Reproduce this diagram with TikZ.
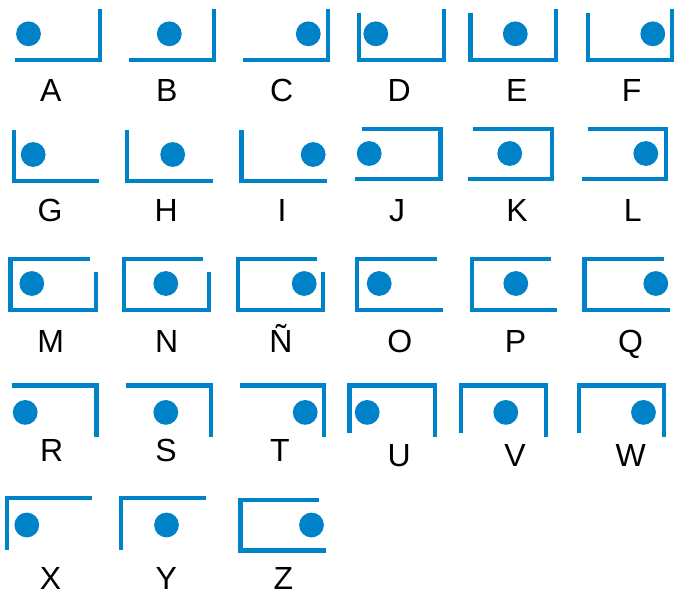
\documentclass[tikz,border=0pt]{standalone}
\usepackage{fontspec}
\setmainfont{Liberation Sans}
\definecolor{cblue}{RGB}{0,130,200}
\tikzset{
  wall/.style={draw=cblue, line width=4.3pt, line join=miter},
  dot/.style={fill=cblue},
  lab/.style={anchor=base, inner sep=0pt, font=\fontsize{32}{32}\selectfont, text=black}
}
\begin{document}
\begin{tikzpicture}[x=1pt,y=-1pt]
\useasboundingbox (0,0) rectangle (675,592);
% ---------- Row 1 ----------
\draw[wall] (15,60) -- (100,60) -- (100,9);
\draw[wall] (129,60) -- (214,60) -- (214,9);
\draw[wall] (243,60) -- (328,60) -- (328,9);
\draw[wall] (359,13) -- (359,60) -- (444,60) -- (444,9);
\draw[wall] (470.5,13) -- (470.5,60) -- (556,60) -- (556,9);
\draw[wall] (588.3,13) -- (588.3,60) -- (671.7,60) -- (671.7,9);
\foreach \x in {28.5,169.3,308.3,375.8,515.3,652.8} \fill[dot] (\x,33.8) circle[radius=12.4];
\node[lab] (lA) at (50.8,101.7) {A};
\node[lab] (lB) at (166.7,101.7) {B};
\node[lab] (lC) at (281.7,101.7) {C};
\node[lab] (lD) at (399.2,101.7) {D};
\node[lab] (lE) at (516.7,101.7) {E};
\node[lab] (lF) at (631.7,101.7) {F};
% ---------- Row 2 ----------
\draw[wall] (13.7,130) -- (13.7,180.7) -- (99,180.7);
\draw[wall] (127.2,130) -- (127.2,180.7) -- (212.7,180.7);
\draw[wall] (241.5,130) -- (241.5,180.7) -- (326.7,180.7);
\draw[wall] (361.7,129) -- (440.5,129) -- (440.5,179.3) -- (355,179.3);
\draw[wall] (473.3,129) -- (552.2,129) -- (552.2,179.3) -- (467.7,179.3);
\draw[wall] (588.3,129) -- (666.2,129) -- (666.2,179.3) -- (581.7,179.3);
\foreach \x in {33.2,172.7,313.2} \fill[dot] (\x,154.5) circle[radius=12.4];
\foreach \x in {369.2,509.7,645.8} \fill[dot] (\x,153.5) circle[radius=12.4];
\node[lab] (lG) at (50,221.7) {G};
\node[lab] (lH) at (166.2,221.7) {H};
\node[lab] (lI) at (282,221.7) {I};
\node[lab] (lJ) at (397,221.7) {J};
\node[lab] (lK) at (517,221.7) {K};
\node[lab] (lL) at (632.8,221.7) {L};
% ---------- Row 3 ----------
\draw[wall] (90,258.7) -- (10.5,258.7) -- (10.5,310.2) -- (96.2,310.2) -- (96.2,271.7);
\draw[wall] (203.3,258.7) -- (123.8,258.7) -- (123.8,310.2) -- (209,310.2) -- (209,271.7);
\draw[wall] (316.7,258.7) -- (238,258.7) -- (238,310.2) -- (322.8,310.2) -- (322.8,271.7);
\draw[wall] (436.7,258.7) -- (357.2,258.7) -- (357.2,310.3) -- (442.7,310.3);
\draw[wall] (550.7,258.7) -- (471.7,258.7) -- (471.7,310.3) -- (557.3,310.3);
\draw[wall] (664,258.7) -- (584.5,258.7) -- (584.5,310.3) -- (670,310.3);
\foreach \x in {31.8,165.8,304.2,379.2,515.8,655.8} \fill[dot] (\x,283.5) circle[radius=12.4];
\node[lab] (lM) at (50.8,352.7) {M};
\node[lab] (lN) at (166.7,352.7) {N};
\node[lab] (lNt) at (281,352.7) {Ñ};
\node[lab] (lO) at (399.7,352.7) {O};
\node[lab] (lP) at (515.5,352.7) {P};
\node[lab] (lQ) at (630.5,352.7) {Q};
% ---------- Row 4 ----------
\draw[wall] (11.7,385.5) -- (96.5,385.5) -- (96.5,436.7);
\draw[wall] (125.7,385.5) -- (210.7,385.5) -- (210.7,436.7);
\draw[wall] (240,385.5) -- (324.3,385.5) -- (324.3,436.7);
\draw[wall] (349.5,433.3) -- (349.5,385.5) -- (434.7,385.5) -- (434.7,436.7);
\draw[wall] (461.2,433.3) -- (461.2,385.5) -- (546.3,385.5) -- (546.3,436.7);
\draw[wall] (578.8,433.3) -- (578.8,385.5) -- (663.8,385.5) -- (663.8,436.7);
\foreach \x in {25.2,165.8,305.2,367.2,505.8,643.5} \fill[dot] (\x,412.4) circle[radius=12.4];
\node[lab] (lR) at (51.7,461.7) {R};
\node[lab] (lS) at (166,461.7) {S};
\node[lab] (lT) at (280,461.7) {T};
\node[lab] (lU) at (399.2,466) {U};
\node[lab] (lV) at (515,466) {V};
\node[lab] (lW) at (630.8,466) {W};
% ---------- Row 5 ----------
\draw[wall] (92.3,498.3) -- (6.7,498.3) -- (6.7,550);
\draw[wall] (206,498.3) -- (120.8,498.3) -- (120.8,550);
\draw[wall] (319,499.7) -- (240.5,499.7) -- (240.5,550.5) -- (325.7,550.5);
\foreach \x in {26.8,166.5,311.5} \fill[dot] (\x,525) circle[radius=12.4];
\node[lab] (lX) at (50.5,589) {X};
\node[lab] (lY) at (166.3,589) {Y};
\node[lab] (lZ) at (283.3,589) {Z};
\end{tikzpicture}
\end{document}
